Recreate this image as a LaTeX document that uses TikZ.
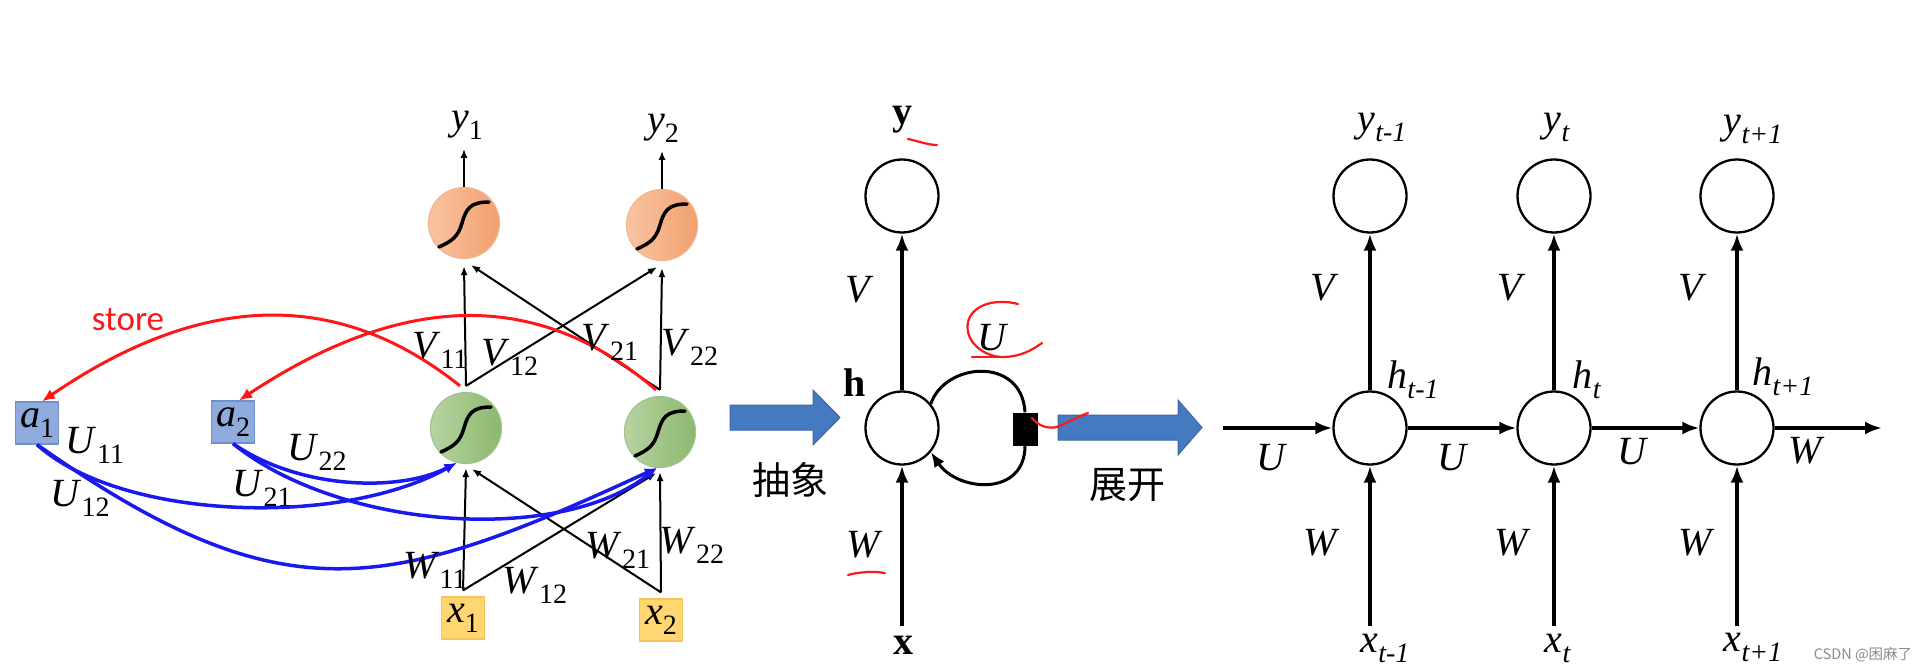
\documentclass[tikz,border=0pt]{standalone}
\usepackage{fontspec}
\setmainfont{Liberation Serif}
\newfontfamily\cjkfont{Noto Sans CJK SC}
\newfontfamily\storefont{Carlito}
\usetikzlibrary{arrows.meta}
\definecolor{orL}{RGB}{249,196,162}
\definecolor{orR}{RGB}{242,160,110}
\definecolor{orE}{RGB}{240,182,142}
\definecolor{grL}{RGB}{182,212,162}
\definecolor{grR}{RGB}{140,184,110}
\definecolor{grE}{RGB}{160,196,140}
\definecolor{aF}{RGB}{143,170,220}
\definecolor{aE}{RGB}{110,145,205}
\definecolor{xF}{RGB}{255,214,112}
\definecolor{xE}{RGB}{245,195,92}
\definecolor{bl}{RGB}{25,25,238}
\definecolor{rd}{RGB}{255,22,22}
\definecolor{blA}{RGB}{70,122,192}
\definecolor{blE}{RGB}{60,102,168}
\newcommand\sbs[1]{\raisebox{-0.25em}{\fontsize{28}{28}\selectfont #1}}
\tikzset{
 lab/.style={inner sep=0pt, font=\fontsize{40}{44}\selectfont},
 ocirc/.style={circle, minimum size=71pt, inner sep=0pt, draw=orE, line width=1.2pt, left color=orL, right color=orR},
 gcirc/.style={circle, minimum size=71pt, inner sep=0pt, draw=grE, line width=1.2pt, left color=grL, right color=grR},
 abox/.style={rectangle, minimum width=43pt, minimum height=42pt, inner sep=0pt, fill=aF, draw=aE, line width=1.2pt, font=\fontsize{40}{44}\selectfont},
 xbox/.style={rectangle, minimum width=43pt, minimum height=42pt, inner sep=0pt, fill=xF, draw=xE, line width=1.2pt, font=\fontsize{40}{44}\selectfont},
 wcirc/.style={circle, minimum size=73pt, inner sep=0pt, draw, line width=2.3pt, fill=white},
 thinarr/.style={line width=2pt, -{Latex[length=9pt,width=7pt]}},
 bigarr/.style={line width=3.5pt, -{Latex[length=17pt,width=13pt]}},
 bluearr/.style={line width=3.5pt, draw=bl, -{Latex[length=12pt,width=10pt]}},
 redarr/.style={line width=3pt, draw=rd, -{Latex[length=13pt,width=11pt]}},
 sigline/.style={line width=3.5pt, line cap=round},
 scrib/.style={draw=rd, line width=2.2pt, line cap=round, line join=round},
 blockarr/.style={fill=blA, draw=blE, line width=1pt},
 loopline/.style={line width=3pt},
}
\begin{document}
\begin{tikzpicture}[x=1pt,y=-1pt]
\fill[white] (0,0) rectangle (1927,671);
\useasboundingbox (0,0) rectangle (1927,671);

% ================= LEFT PART =================
\node[ocirc] (o1) at (464,223) {};
\node[ocirc] (o2) at (662,225) {};
\node[gcirc] (g1) at (466,428) {};
\node[gcirc] (g2) at (660,432) {};
\node[xbox] (x1) at (463,618) {\textit{x}\sbs{1}};
\node[xbox] (x2) at (661,620) {\textit{x}\sbs{2}};
\node[abox] (a1) at (37,423) {\textit{a}\sbs{1}};
\node[abox] (a2) at (233,422) {\textit{a}\sbs{2}};

\foreach \n in {o1,o2,g1,g2}{
  \draw[sigline, shift={(\n.center)}] (-25,24) .. controls (-12,18) and (-6,14) .. (-2,0) .. controls (2,-14) and (6,-21) .. (25,-21);
}

\coordinate (g1t) at ([yshift=6pt]g1.north);
\coordinate (g2t) at ([yshift=6pt]g2.north);
\coordinate (x1t) at ([yshift=6pt]x1.north);
\coordinate (x2t) at ([yshift=6pt]x2.north);
\coordinate (o1b) at ([yshift=-7pt]o1.south);
\coordinate (o2b) at ([yshift=-7pt]o2.south);
\coordinate (o1bx) at ([xshift=7pt,yshift=-6pt]o1.south);
\coordinate (o2bx) at ([xshift=-5pt,yshift=-6pt]o2.south);
\coordinate (g1b) at ([yshift=-4pt]g1.south);
\coordinate (g2b) at ([yshift=-4pt]g2.south);
\coordinate (g1bx) at ([xshift=6pt,yshift=-5pt]g1.south);
\coordinate (g2bx) at ([xshift=-4pt,yshift=-5pt]g2.south);
\coordinate (y1a) at ([yshift=38pt]o1.north);
\coordinate (y2a) at ([yshift=38pt]o2.north);

% V connections
\draw[thinarr] (g1t) -- (o1b);
\draw[thinarr] (g1t) -- (o2bx);
\draw[thinarr] (g2t) -- (o2b);
\draw[thinarr] (g2t) -- (o1bx);
% W connections
\draw[thinarr] (x1t) -- (g1b);
\draw[thinarr] (x1t) -- (g2bx);
\draw[thinarr] (x2t) -- (g2b);
\draw[thinarr] (x2t) -- (g1bx);
% outputs
\draw[thinarr] (o1.north) -- (y1a);
\draw[thinarr] (o2.north) -- (y2a);

% red store curves
\draw[redarr] ([xshift=-6pt]g1t) .. controls (340,290) and (205,290) .. ([xshift=5pt]a1.north);
\draw[redarr] ([xshift=-4pt]g2t) .. controls (540,290) and (406,290) .. ([xshift=6pt]a2.north);

% blue recurrent curves
\draw[bluearr] (a1.south) .. controls (120,520) and (340,528) .. (g1.255);
\draw[bluearr] (a1.south) .. controls (283,617) and (384,594) .. (g2.265);
\draw[bluearr] (a2.south) .. controls (300,490) and (400,492) .. (g1.255);
\draw[bluearr] (a2.south) .. controls (340,530) and (560,545) .. (g2.265);

% labels left
\node[lab] (ly1) at (467,125) {\textit{y}\sbs{1}};
\node[lab] (ly2) at (663,128) {\textit{y}\sbs{2}};
\node[lab] (lV11) at (440,350) {\textit{V}\sbs{11}};
\node[lab] (lV12) at (510,357) {\textit{V}\sbs{12}};
\node[lab] (lV21) at (610,342) {\textit{V}\sbs{21}};
\node[lab] (lV22) at (690,347) {\textit{V}\sbs{22}};
\node[lab] (lW11) at (435,570) {\textit{W}\sbs{11}};
\node[lab] (lW12) at (535,585) {\textit{W}\sbs{12}};
\node[lab] (lW21) at (618,550) {\textit{W}\sbs{21}};
\node[lab] (lW22) at (692,545) {\textit{W}\sbs{22}};
\node[lab] (lU11) at (95,445) {\textit{U}\sbs{11}};
\node[lab] (lU12) at (80,498) {\textit{U}\sbs{12}};
\node[lab] (lU22) at (317,452) {\textit{U}\sbs{22}};
\node[lab] (lU21) at (262,488) {\textit{U}\sbs{21}};
\node[inner sep=0pt, text=rd, font=\storefont\fontsize{35}{38}\selectfont] (lstore) at (128,320) {store};

% ================= MIDDLE PART =================
\draw[blockarr] (730,405) -- (813,405) -- (813,390) -- (840,417.5) -- (813,445) -- (813,430) -- (730,430) -- cycle;
\draw[blockarr] (1058,415) -- (1178,415) -- (1178,400) -- (1202,427.5) -- (1178,455) -- (1178,440) -- (1058,440) -- cycle;
\node[inner sep=0pt, font=\cjkfont\fontsize{38}{40}\selectfont] (labs) at (790,480) {抽象};
\node[inner sep=0pt, font=\cjkfont\fontsize{38}{40}\selectfont] (lzk) at (1127,485) {展开};

\node[wcirc] (ym) at (902,196) {};
\node[wcirc] (hm) at (902,428) {};
\node[fill=black, minimum width=25pt, minimum height=33pt, inner sep=0pt] (sq) at (1025,429) {};
\coordinate (xmS) at (902,626);
\draw[bigarr] (hm.north) -- (ym.south);
\draw[bigarr] (xmS) -- (hm.south);
\draw[loopline] (hm.40) .. controls (945,362) and (1022,356) .. (sq.north);
\draw[loopline, -{Latex[length=15pt,width=12pt]}] (sq.south) .. controls (1025,497) and (958,492) .. (hm.-40);

\node[lab] (lym) at (902,120) {\textbf{y}};
\node[lab] (lhm) at (855,383) {\textbf{h}};
\node[lab] (lxm) at (903,645) {\textbf{x}};
\node[lab] (lVm) at (860,290) {\textit{V}};
\node[lab] (lWm) at (865,545) {\textit{W}};
\node[lab] (lUm) at (993,338) {\textit{U}};

% red annotations
\draw[scrib] (908,139) .. controls (918,141) and (928,145) .. (937,145);
\draw[scrib] (848,575) .. controls (858,572) and (874,571) .. (885,573);
\draw[scrib] (1018,304) .. controls (995,298) and (972,305) .. (968,322) .. controls (964,342) and (985,358) .. (1005,357) .. controls (1022,356) and (1032,350) .. (1042,343);
\draw[scrib] (972,357) -- (1003,357);
\draw[scrib] (1032,418) .. controls (1040,428) and (1052,430) .. (1062,425) .. controls (1072,420) and (1080,416) .. (1088,413);

% ================= RIGHT PART =================
\node[wcirc] (y1r) at (1370,196) {};
\node[wcirc] (y2r) at (1554,196) {};
\node[wcirc] (y3r) at (1737,196) {};
\node[wcirc] (h1r) at (1370,428) {};
\node[wcirc] (h2r) at (1554,428) {};
\node[wcirc] (h3r) at (1737,428) {};
\coordinate (x1rS) at (1370,626);
\coordinate (x2rS) at (1554,626);
\coordinate (x3rS) at (1737,626);
\coordinate (inR) at (1223,428);
\coordinate (outR) at (1882,428);

\draw[bigarr] (h1r.north) -- (y1r.south);
\draw[bigarr] (h2r.north) -- (y2r.south);
\draw[bigarr] (h3r.north) -- (y3r.south);
\draw[bigarr] (x1rS) -- (h1r.south);
\draw[bigarr] (x2rS) -- (h2r.south);
\draw[bigarr] (x3rS) -- (h3r.south);
\draw[bigarr] (inR) -- (h1r.west);
\draw[bigarr] (h1r.east) -- (h2r.west);
\draw[bigarr] (h2r.east) -- (h3r.west);
\draw[bigarr] (h3r.east) -- (outR);

\node[lab] (lyr1) at (1382,127) {\textit{y}\sbs{\textit{t-1}}};
\node[lab] (lyr2) at (1557,127) {\textit{y}\sbs{\textit{t}}};
\node[lab] (lyr3) at (1753,129) {\textit{y}\sbs{\textit{t+1}}};
\node[lab] (lhr1) at (1413,380) {\textit{h}\sbs{\textit{t-1}}};
\node[lab] (lhr2) at (1587,380) {\textit{h}\sbs{\textit{t}}};
\node[lab] (lhr3) at (1783,377) {\textit{h}\sbs{\textit{t+1}}};
\node[lab] (lxr1) at (1385,648) {\textit{x}\sbs{\textit{t-1}}};
\node[lab] (lxr2) at (1558,648) {\textit{x}\sbs{\textit{t}}};
\node[lab] (lxr3) at (1753,647) {\textit{x}\sbs{\textit{t+1}}};
\node[lab] (lVr1) at (1325,288) {\textit{V}};
\node[lab] (lVr2) at (1512,288) {\textit{V}};
\node[lab] (lVr3) at (1693,288) {\textit{V}};
\node[lab] (lWr1) at (1322,543) {\textit{W}};
\node[lab] (lWr2) at (1513,543) {\textit{W}};
\node[lab] (lWr3) at (1697,543) {\textit{W}};
\node[lab] (lUr1) at (1272,458) {\textit{U}};
\node[lab] (lUr2) at (1453,458) {\textit{U}};
\node[lab] (lUr3) at (1633,452) {\textit{U}};
\node[lab] (lWr4) at (1807,451) {\textit{W}};

\node[inner sep=0pt, text=black!45, font=\cjkfont\fontsize{14.5}{16}\selectfont] (wm) at (1863,655) {CSDN @困麻了};
\end{tikzpicture}
\end{document}
